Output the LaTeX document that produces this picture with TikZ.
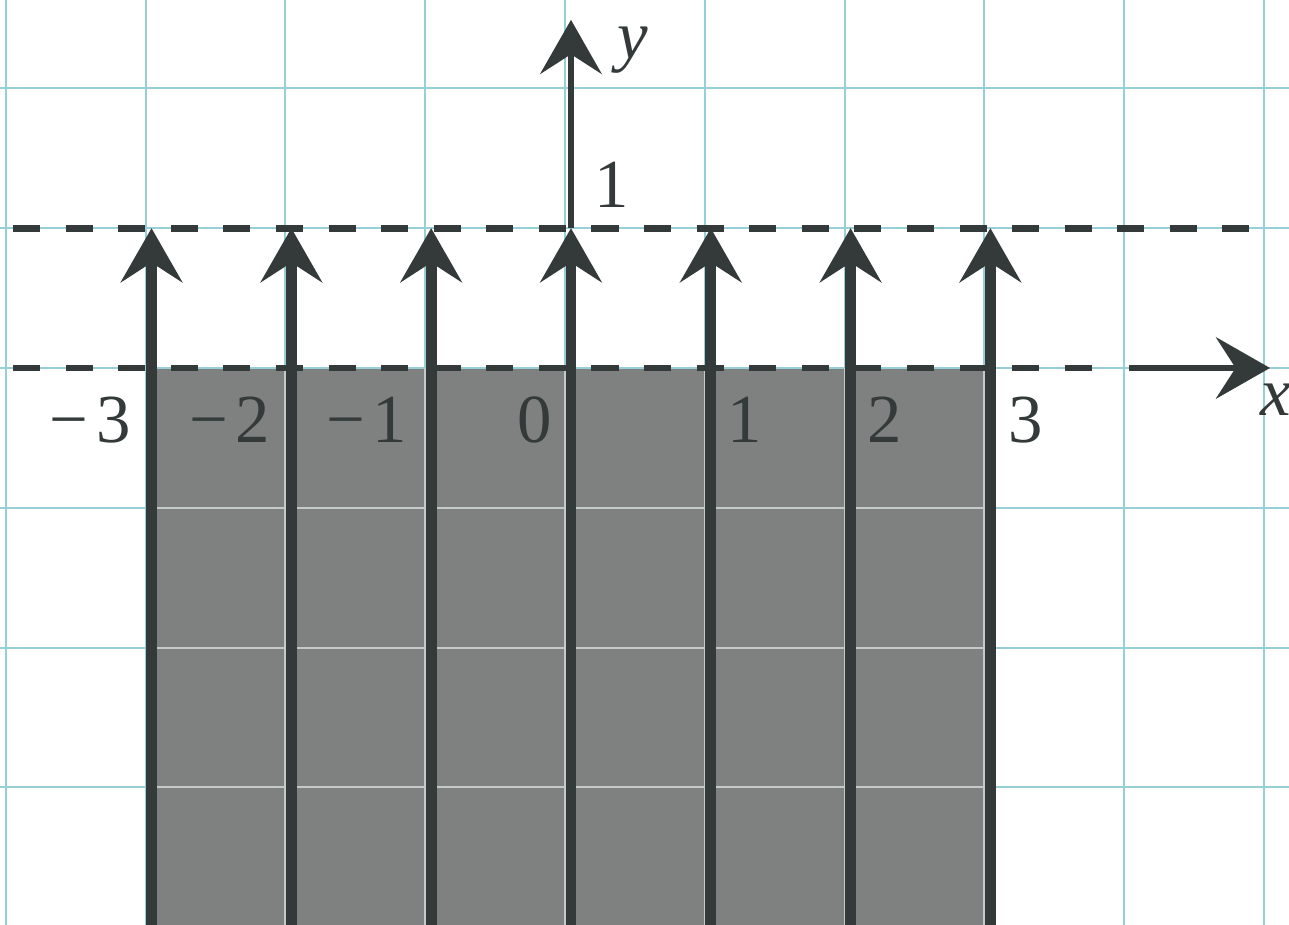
\documentclass[tikz,border=0pt]{standalone}
\usepackage{fontspec}
\setmainfont{Liberation Serif}
\usetikzlibrary{arrows.meta}
\definecolor{gridc}{RGB}{150,208,214}
\definecolor{gridg}{RGB}{196,202,200}
\definecolor{fillg}{RGB}{126,129,127}
\definecolor{ink}{RGB}{52,58,58}
\tikzset{
  gridline/.style={gridc, line width=0.4pt},
  gridin/.style={gridg, line width=0.4pt},
  level/.style={ink, line width=1.4pt, dash pattern=on 5.5pt off 5.2pt},
  ray/.style={ink, line width=2.2pt, -{Stealth[length=11pt,width=12.5pt,inset=4pt]}},
  axisline/.style={ink, line width=1.3pt, -{Stealth[length=11pt,width=12.5pt,inset=4pt]}},
  lab/.style={ink, font=\fontsize{14}{16}\selectfont, inner sep=0pt},
  ilab/.style={ink, font=\fontsize{14}{16}\selectfont\itshape, inner sep=0pt},
}
\begin{document}
\begin{tikzpicture}
\useasboundingbox (-4.084,-3.984) rectangle (5.136,2.632);
\clip (-4.084,-3.984) rectangle (5.136,2.632);
\fill[white] (-4.084,-3.984) rectangle (5.136,2.632);
% shaded region
\fill[fillg] (-3.04,-4.1) rectangle (3.04,0);
% paper grid
\foreach \x in {-4,...,5} \draw[gridline] (\x-0.043,-4.1) -- (\x-0.043,2.7);
\foreach \y in {-3,...,2} \draw[gridline] (-4.2,\y) -- (5.2,\y);
\foreach \y in {-3,...,-1} \draw[gridin] (-3.04,\y) -- (3.04,\y);
\foreach \x in {-2,...,3} \draw[gridin] (\x-0.043,-4.1) -- (\x-0.043,0);
% dashed levels
\coordinate (l1a) at (-3.99,1);
\coordinate (l1b) at (4.96,1);
\coordinate (l0a) at (-3.99,0);
\coordinate (l0b) at (3.82,0);
\draw[level] (l1a) -- (l1b);
\draw[level] (l0a) -- (l0b);
% rays
\foreach \i in {-3,...,3} {
  \coordinate (b\i) at (\i,-4.2);
  \coordinate (t\i) at (\i,1);
  \draw[ray] (b\i) -- (t\i);
}
% axes
\coordinate (xs) at (3.99,0);
\coordinate (xe) at (5.0,0);
\draw[axisline] (xs) -- (xe);
\coordinate (ye) at (0,2.49);
\draw[axisline] (t0) -- (ye);
% labels
\node[lab] (nm3) at (-3.44,-0.37) {−\hspace{0.12em}3};
\node[lab] (nm2) at (-2.44,-0.37) {−\hspace{0.1em}2};
\node[lab] (nm1) at (-1.46,-0.37) {−\hspace{0.1em}1};
\node[lab] (n0) at (-0.26,-0.37) {0};
\node[lab] (n1) at (1.245,-0.37) {1};
\node[lab] (n2) at (2.246,-0.37) {2};
\node[lab] (n3) at (3.25,-0.37) {3};
\node[lab] (ny1) at (0.293,1.31) {1};
\node[ilab] (ylab) at (0.44,2.27) {y};
\node[ilab] (xlab) at (5.04,-0.23) {x};
\end{tikzpicture}
\end{document}
